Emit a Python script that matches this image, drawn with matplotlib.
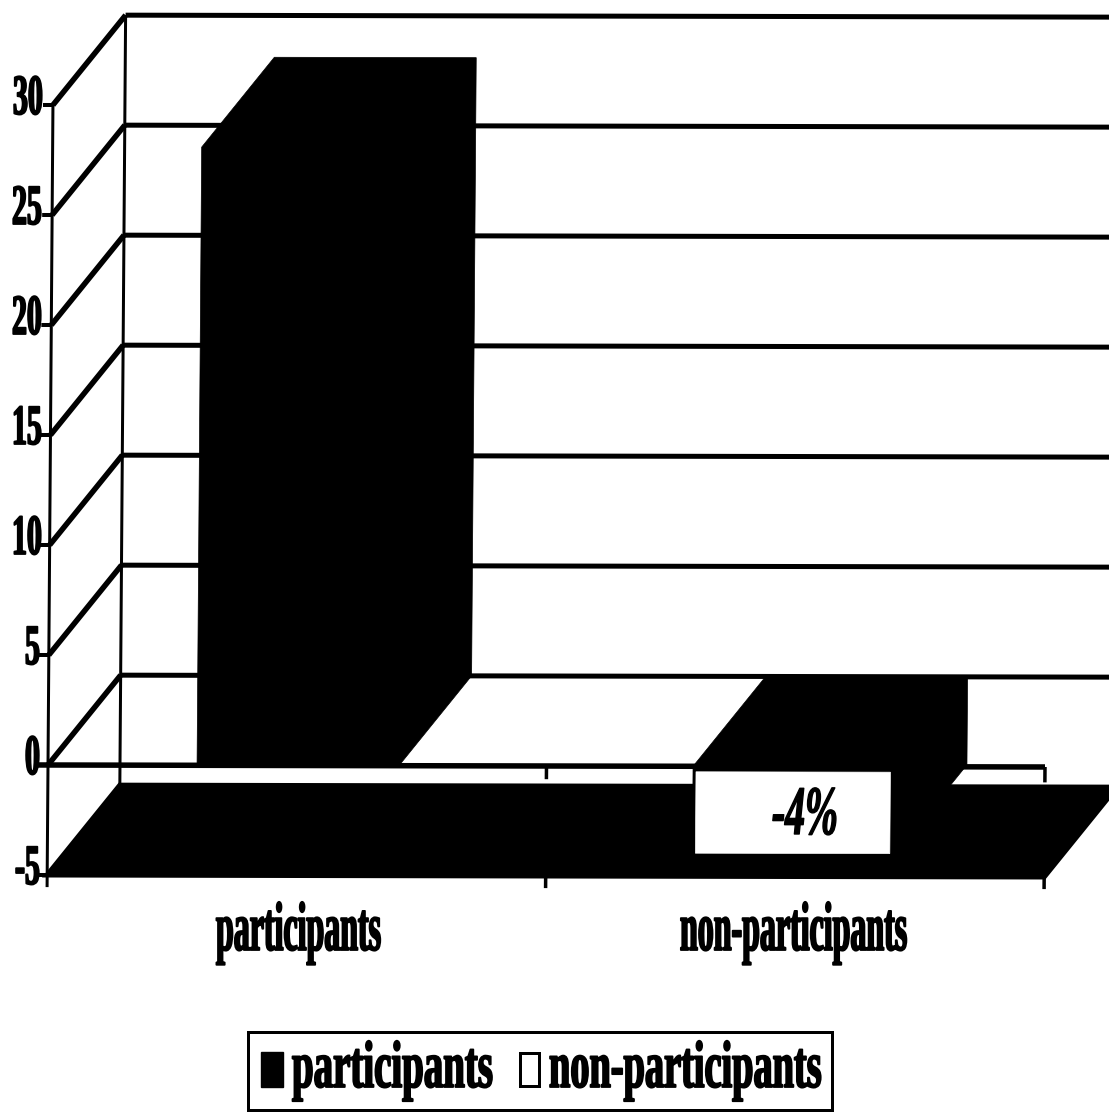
import matplotlib
matplotlib.use("Agg")
import matplotlib.pyplot as plt
from matplotlib.patches import Polygon, Rectangle
from matplotlib.patheffects import AbstractPathEffect
from matplotlib.transforms import Affine2D

categories = ["participants", "non-participants"]
values = [28.1, -4.0]
value_labels = [None, "-4%"]
y_ticks = [-5, 0, 5, 10, 15, 20, 25, 30]
tick_label_left = [15, 25, 25, 12, 12, 12, 12, 13]

W, H = 1109, 1113
BAR_LEFT = [0.299, 1.294]
BAR_WIDTH = 0.405
DEPTH_CAT = 0.1444     # oblique shift of the back plane, in category units
DEPTH_VAL = 4.09       # oblique shift of the back plane, in value units
FLOOR = y_ticks[0]
TOP = y_ticks[-1]
PX = 0.72              # one pixel in points at dpi=100


class Tall(AbstractPathEffect):
    """Stretches glyphs upward from the baseline and thickens them slightly."""

    def __init__(self, sy, bold=1.0):
        super().__init__()
        self.sy = sy
        self.bold = bold

    def draw_path(self, renderer, gc, tpath, affine, rgbFace=None):
        g = renderer.new_gc()
        g.copy_properties(gc)
        g.set_linewidth(self.bold)
        g.set_foreground("black")
        renderer.draw_path(g, tpath, Affine2D().scale(1, self.sy) + affine, rgbFace)
        g.restore()


fig = plt.figure(figsize=(W / 100, H / 100), dpi=100, facecolor="white")
ax = fig.add_axes([0, 0, 1, 1])
ax.set_axis_off()
ax.set_xlim((0 - 48) / 498.5, (W - 48) / 498.5)
ax.set_ylim((765 - H) / 22, 765 / 22)

# The whole plot sits on a very slight shear.
shear = Affine2D.from_values(1, -0.0453, 0.000331, 1, 0, 0)
T = shear + ax.transData
pixels = Affine2D().scale(1, -1).translate(0, H)


def P(cat, val, depth=0.0):
    return (cat + depth * DEPTH_CAT, val + depth * DEPTH_VAL)


def line(pts, lw=5, z=2):
    xs, ys = zip(*pts)
    ax.plot(xs, ys, color="black", lw=lw * PX, transform=T, zorder=z,
            solid_capstyle="butt", clip_on=False)


def poly(pts, fc="black", z=3, edge=0.5):
    ax.add_patch(Polygon(pts, closed=True, fc=fc, ec=fc, lw=edge, transform=T, zorder=z))


def label(x, y, s, height, width, style="normal", bold=1.3, z=8):
    """Draws condensed text: width is the nominal size, height the stretched one."""
    ax.text(x, y, s, transform=pixels, fontsize=width, family="Liberation Serif",
            weight="bold", style=style, ha="left", va="baseline", zorder=z,
            color="black", path_effects=[Tall(height / width, bold)])


# Back wall gridlines, side wall diagonals and left-hand ticks
for v, lx in zip(y_ticks, tick_label_left):
    if v != FLOOR:
        line([P(0, v, 1), P(2.2, v, 1)])
        line([P(0, v), P(0, v, 1)], lw=5.5)
    line([P(-0.02, v), P(0, v)], lw=4)
    _, base = pixels.inverted().transform(T.transform(P(0, v)))
    label(lx, base + 9, ("-" if v < 0 else "") + str(abs(v)), 41, 21.5)

line([P(0, FLOOR, 1), P(0, TOP, 1)], lw=3)
line([P(0, FLOOR - 0.55), P(0, TOP)], lw=3)

# Floor of the plot
poly([P(0, FLOOR), P(0, FLOOR, 1), P(2, FLOOR, 1), P(2, FLOOR)], z=2, edge=5 * PX)
line([P(2, FLOOR), P(2, FLOOR - 0.55)], lw=3.5)
line([P(1, FLOOR), P(1, FLOOR - 0.55)], lw=3.5)

# Zero line with its ticks
line([P(-0.02, 0), P(2, 0)], lw=5.5, z=4)
line([P(1, 0), P(1, -0.6)], lw=3.5, z=4)
line([P(2, 0), P(2, -0.7)], lw=3.5, z=4)

# Bars as oblique prisms: silhouette from base to value, front and back
for left, v in zip(BAR_LEFT, values):
    right = left + BAR_WIDTH
    if v >= 0:
        pts = [P(left, 0), P(left, v), P(left, v, 1), P(right, v, 1), P(right, 0, 1), P(right, 0)]
    else:
        pts = [P(left, 0), P(left, 0, 1), P(right, 0, 1), P(right, v, 1), P(right, v), P(left, v)]
    poly(pts, z=5)

# Value label on its white plate
for left, v, text in zip(BAR_LEFT, values, value_labels):
    if text:
        plate = [P(left + 0.006, -0.25), P(left + 0.396, -0.25),
                 P(left + 0.396, v + 0.05), P(left + 0.006, v + 0.05)]
        poly(plate, fc="white", z=6)
        label(772, 834, text, 50, 28.5, style="italic", bold=1.0)

# Category labels
label(216, 950, categories[0], 50, 23)
label(680, 950, categories[1], 50, 23)

# Legend
ax.add_patch(Rectangle((248, 1032), 584, 78, transform=pixels, fc="white", ec="black",
                       lw=3 * PX, zorder=7))
ax.add_patch(Rectangle((261, 1052), 22, 35, transform=pixels, fc="black", ec="black",
                       lw=1, zorder=8))
ax.add_patch(Rectangle((520, 1053), 19, 33, transform=pixels, fc="white", ec="black",
                       lw=3 * PX, zorder=8))
label(292, 1087, categories[0], 48, 28)
label(549, 1087, categories[1], 48, 27.6)

fig.savefig("out.png", dpi=100, facecolor="white")
